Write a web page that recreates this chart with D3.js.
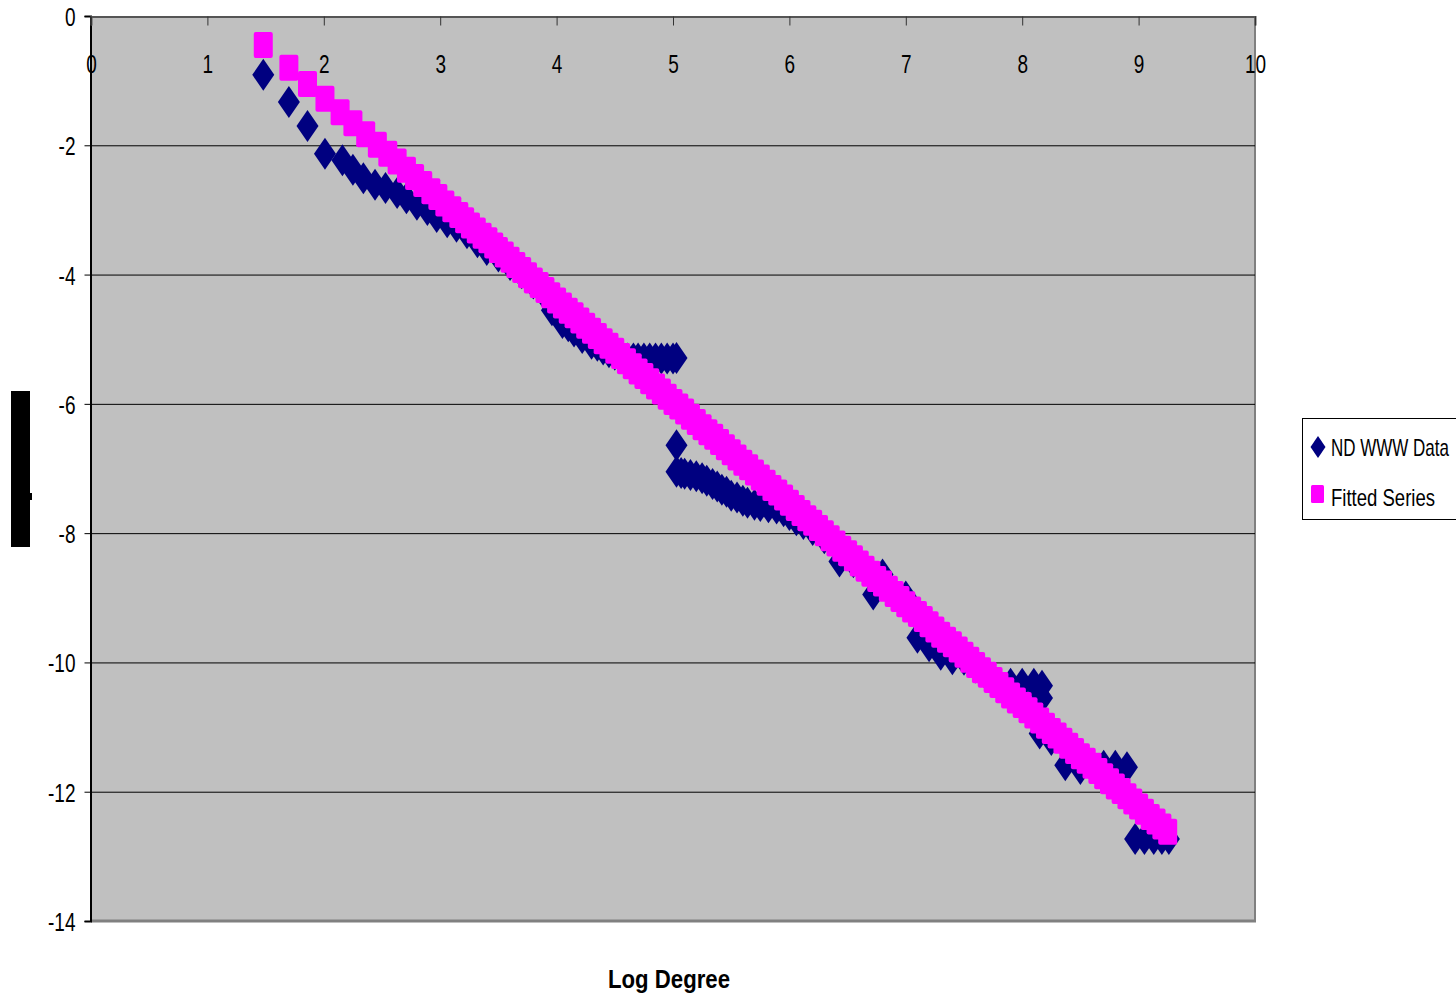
<!DOCTYPE html>
<html>
<head>
<meta charset="utf-8">
<script src="https://cdn.jsdelivr.net/npm/d3@7"></script>
<style>
  body { margin: 0; background: #fff; }
  svg text { font-family: "Liberation Sans", Arial, sans-serif; }
</style>
</head>
<body>
<div id="chart"></div>
<script>
// x ticks and y ticks
var xTicks = [0, 1, 2, 3, 4, 5, 6, 7, 8, 9, 10];
var yTicks = [0, -2, -4, -6, -8, -10, -12, -14];
var seriesNames = ["ND WWW Data", "Fitted Series"];

// ND WWW Data (log degree, log probability)
var wwwData = [
  [1.48, -0.91], [1.70, -1.33], [1.86, -1.70], [2.01, -2.13], [2.16, -2.23], [2.25, -2.38],
  [2.34, -2.51], [2.44, -2.61], [2.53, -2.66], [2.63, -2.74], [2.71, -2.82], [2.80, -2.92],
  [2.89, -3.00], [2.97, -3.11], [3.06, -3.19], [3.14, -3.26], [3.23, -3.36], [3.32, -3.50],
  [3.40, -3.62], [3.50, -3.72], [3.60, -3.85], [3.70, -3.98], [3.80, -4.14], [3.90, -4.32],
  [3.96, -4.55], [4.05, -4.75], [4.10, -4.80], [4.15, -4.88], [4.22, -4.98], [4.30, -5.07],
  [4.35, -5.10], [4.40, -5.16], [4.45, -5.20], [4.50, -5.24], [4.56, -5.28], [4.61, -5.30],
  [4.66, -5.30], [4.70, -5.30], [4.75, -5.30], [4.80, -5.30], [4.85, -5.30], [4.90, -5.30],
  [4.95, -5.30], [5.00, -5.30], [5.03, -5.29],
  [5.03, -6.64], [5.03, -7.05], [5.07, -7.07], [5.10, -7.08], [5.15, -7.10], [5.20, -7.12],
  [5.25, -7.15], [5.29, -7.19], [5.34, -7.24], [5.38, -7.28], [5.42, -7.33], [5.46, -7.36],
  [5.50, -7.42], [5.55, -7.45], [5.60, -7.50], [5.64, -7.53], [5.70, -7.56], [5.75, -7.58],
  [5.82, -7.60], [5.89, -7.62], [5.95, -7.66], [6.00, -7.72], [6.06, -7.80], [6.12, -7.86],
  [6.20, -7.95], [6.30, -8.08], [6.43, -8.44], [6.55, -8.45], [6.65, -8.55],
  [6.72, -8.95], [6.80, -8.64], [6.90, -8.95], [7.00, -8.98], [7.10, -9.62], [7.20, -9.75],
  [7.30, -9.88], [7.40, -9.95], [7.50, -9.96], [7.60, -10.08], [7.70, -10.22], [7.80, -10.33],
  [7.90, -10.33], [8.00, -10.33], [8.10, -10.33], [8.17, -10.36], [8.17, -10.55], [8.15, -11.10],
  [8.25, -11.20], [8.37, -11.59], [8.50, -11.65], [8.60, -11.62], [8.70, -11.60], [8.80, -11.60],
  [8.90, -11.62], [8.97, -12.73], [9.05, -12.73], [9.13, -12.73], [9.20, -12.73], [9.26, -12.73]
];

// Fitted Series
var fittedData = [
  [1.48, -0.45], [1.70, -0.80], [1.86, -1.05], [2.01, -1.28], [2.14, -1.49], [2.25, -1.66],
  [2.36, -1.83], [2.46, -1.99], [2.55, -2.13], [2.63, -2.25], [2.71, -2.38], [2.78, -2.49],
  [2.85, -2.60], [2.92, -2.71], [2.98, -2.80], [3.04, -2.90], [3.10, -2.99], [3.16, -3.08],
  [3.21, -3.16], [3.26, -3.24], [3.31, -3.32], [3.36, -3.40], [3.41, -3.47], [3.46, -3.55],
  [3.50, -3.62], [3.55, -3.69], [3.60, -3.77], [3.65, -3.85], [3.70, -3.93], [3.75, -4.01],
  [3.80, -4.09], [3.85, -4.16], [3.90, -4.24], [3.95, -4.32], [4.00, -4.40], [4.05, -4.48],
  [4.10, -4.56], [4.15, -4.63], [4.20, -4.71], [4.25, -4.79], [4.30, -4.87], [4.35, -4.95],
  [4.40, -5.03], [4.45, -5.10], [4.50, -5.18], [4.55, -5.26], [4.60, -5.34], [4.65, -5.42],
  [4.70, -5.50], [4.75, -5.57], [4.80, -5.65], [4.85, -5.73], [4.90, -5.81], [4.95, -5.89],
  [5.00, -5.97], [5.05, -6.04], [5.10, -6.12], [5.15, -6.20], [5.20, -6.28], [5.25, -6.36],
  [5.30, -6.44], [5.35, -6.51], [5.40, -6.59], [5.45, -6.67], [5.50, -6.75], [5.55, -6.83],
  [5.60, -6.91], [5.65, -6.98], [5.70, -7.06], [5.75, -7.14], [5.80, -7.22], [5.85, -7.30],
  [5.90, -7.37], [5.95, -7.45], [6.00, -7.53], [6.05, -7.61], [6.10, -7.69], [6.15, -7.77],
  [6.20, -7.84], [6.25, -7.92], [6.30, -8.00], [6.35, -8.08], [6.40, -8.16], [6.45, -8.24],
  [6.50, -8.31], [6.55, -8.39], [6.60, -8.47], [6.65, -8.55], [6.70, -8.63], [6.75, -8.71],
  [6.80, -8.78], [6.85, -8.86], [6.90, -8.94], [6.95, -9.02], [7.00, -9.10], [7.05, -9.18],
  [7.10, -9.25], [7.15, -9.33], [7.20, -9.41], [7.25, -9.49], [7.30, -9.57], [7.35, -9.65],
  [7.40, -9.72], [7.45, -9.80], [7.50, -9.88], [7.55, -9.96], [7.60, -10.04], [7.65, -10.12],
  [7.70, -10.19], [7.75, -10.27], [7.80, -10.35], [7.85, -10.43], [7.90, -10.51], [7.95, -10.59],
  [8.00, -10.66], [8.05, -10.74], [8.10, -10.82], [8.15, -10.90], [8.20, -10.98], [8.25, -11.06],
  [8.30, -11.13], [8.35, -11.21], [8.40, -11.29], [8.45, -11.37], [8.50, -11.45], [8.55, -11.52],
  [8.60, -11.60], [8.65, -11.68], [8.70, -11.76], [8.75, -11.84], [8.80, -11.92], [8.85, -11.99],
  [8.90, -12.07], [8.95, -12.15], [9.00, -12.23], [9.05, -12.31], [9.10, -12.39], [9.15, -12.46],
  [9.20, -12.54], [9.25, -12.62]
];

var width = 1456, height = 995;
var svg = d3.select('#chart').append('svg').attr('width', width).attr('height', height);

var x = d3.scaleLinear().domain([0, 10]).range([91, 1255]);
var y = d3.scaleLinear().domain([0, -14]).range([16, 921]);

// squeeze text horizontally, the original uses a condensed face
function condense(sel, k) {
  sel.each(function () {
    var w = this.getComputedTextLength();
    d3.select(this).attr('textLength', w * k).attr('lengthAdjust', 'spacingAndGlyphs');
  });
}

// plot area
svg.append('rect').attr('x', x(0)).attr('y', y(0))
   .attr('width', x(10) - x(0)).attr('height', y(-14) - y(0))
   .attr('fill', '#c0c0c0');
// shadow edges right and bottom
svg.append('line').attr('x1', x(10)).attr('x2', x(10)).attr('y1', y(0)).attr('y2', y(-14) + 1)
   .attr('stroke', '#808080').attr('stroke-width', 2);
svg.append('line').attr('x1', x(0)).attr('x2', x(10) + 1).attr('y1', y(-14)).attr('y2', y(-14))
   .attr('stroke', '#808080').attr('stroke-width', 3);

// gridlines
svg.append('g').selectAll('line')
   .data(yTicks.filter(function (d) { return d < 0 && d > -14; }))
   .enter().append('line')
   .attr('x1', x(0)).attr('x2', x(10))
   .attr('y1', function (d) { return y(d) + 0.5; }).attr('y2', function (d) { return y(d) + 0.5; })
   .attr('stroke', '#000').attr('stroke-width', 1);

// y axis
var yAxis = svg.append('g').attr('transform', 'translate(' + (x(0) - 0.5) + ',0)')
   .call(d3.axisLeft(y).tickValues(yTicks).tickSize(6).tickPadding(9)
     .tickFormat(function (d) { return String(d); }));
yAxis.select('.domain').attr('stroke', '#000').attr('stroke-width', 2);
yAxis.selectAll('text').attr('font-size', 25).attr('fill', '#000').attr('dy', '0.38em')
   .call(condense, 0.76);

// x axis at top, labels inside the plot
var xAxis = svg.append('g').attr('transform', 'translate(0,' + (y(0) + 0.5) + ')')
   .call(d3.axisTop(x).tickValues(xTicks).tickSize(-9).tickFormat(function (d) { return String(d); }));
xAxis.select('.domain').attr('stroke', '#555').attr('stroke-width', 2);
xAxis.selectAll('.tick line').attr('stroke', '#333');
xAxis.selectAll('text').attr('font-size', 25).attr('fill', '#000')
   .attr('y', 56).attr('dy', 0)
   .call(condense, 0.76);

// ND WWW Data diamonds
var diamond = function (w, h) {
  return 'M0,' + (-h / 2) + 'L' + (w / 2) + ',0L0,' + (h / 2) + 'L' + (-w / 2) + ',0Z';
};
svg.append('g').selectAll('path')
   .data(wwwData).enter().append('path')
   .attr('d', diamond(22, 32))
   .attr('transform', function (d) { return 'translate(' + x(d[0]) + ',' + y(d[1]) + ')'; })
   .attr('fill', '#000080');

// Fitted squares
svg.append('g').selectAll('rect')
   .data(fittedData).enter().append('rect')
   .attr('x', function (d) { return x(d[0]) - 9.5; })
   .attr('y', function (d) { return y(d[1]) - 13; })
   .attr('width', 19).attr('height', 26).attr('rx', 2)
   .attr('fill', '#ff00ff');

// y axis title (rendered as a solid black block)
svg.append('rect').attr('x', 11).attr('y', 391).attr('width', 19).attr('height', 156).attr('fill', '#000');
svg.append('rect').attr('x', 30).attr('y', 493).attr('width', 2).attr('height', 7).attr('fill', '#000');

// x axis title
svg.append('text').attr('x', 669).attr('y', 988).attr('text-anchor', 'middle')
   .attr('font-size', 25).attr('font-weight', 'bold')
   .attr('textLength', 122).attr('lengthAdjust', 'spacingAndGlyphs')
   .text('Log Degree');

// legend
var legend = svg.append('g');
legend.append('rect').attr('x', 1302.5).attr('y', 418.5).attr('width', 170).attr('height', 101)
   .attr('fill', '#fff').attr('stroke', '#000').attr('stroke-width', 1);
legend.append('path').attr('d', diamond(15, 22)).attr('transform', 'translate(1318,447)').attr('fill', '#000080');
legend.append('rect').attr('x', 1311).attr('y', 485).attr('width', 13).attr('height', 18).attr('rx', 1.5).attr('fill', '#ff00ff');
var legendWidths = [118, 104];
legend.selectAll('text.lg').data(seriesNames).enter().append('text')
   .attr('class', 'lg')
   .attr('x', 1331).attr('y', function (d, i) { return 456 + i * 50; })
   .attr('font-size', 24).attr('fill', '#000')
   .attr('textLength', function (d, i) { return legendWidths[i]; })
   .attr('lengthAdjust', 'spacingAndGlyphs')
   .text(function (d) { return d; });
</script>
</body>
</html>
